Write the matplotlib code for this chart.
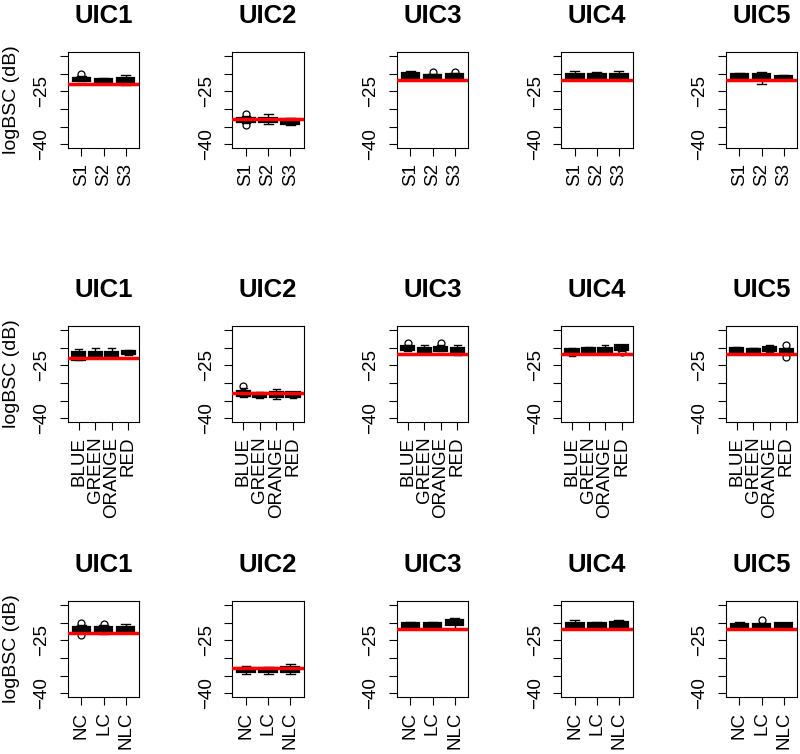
import numpy as np
import matplotlib
matplotlib.use("Agg")
import matplotlib.pyplot as plt

plt.rcParams['font.family'] = ['Liberation Sans', 'DejaVu Sans']

panels = ["UIC1", "UIC2", "UIC3", "UIC4", "UIC5"]
groups_row1 = ["S1", "S2", "S3"]
groups_row2 = ["BLUE", "GREEN", "ORANGE", "RED"]
groups_row3 = ["NC", "LC", "NLC"]

# reference logBSC (red line) per phantom
ref_bsc = [-22.9, -32.7, -21.9, -21.9, -21.9]

# box summaries: (whisker low, q1, median, q3, whisker high)
box_row1 = [
    [(-22.2, -22.0, -21.6, -21.2, -20.8), (-23.0, -22.6, -22.0, -21.5, -21.2), (-23.2, -22.3, -21.7, -21.2, -20.4)],
    [(-33.9, -33.6, -33.0, -32.6, -31.9), (-34.3, -33.8, -33.2, -32.6, -31.5), (-34.4, -34.1, -33.5, -32.7, -32.4)],
    [(-21.5, -21.1, -20.4, -19.8, -19.2), (-21.9, -21.3, -20.8, -20.3, -20.0), (-21.6, -21.1, -20.7, -20.1, -19.9)],
    [(-21.8, -21.4, -20.7, -20.0, -19.2), (-21.5, -21.4, -20.8, -20.0, -19.5), (-21.8, -21.4, -20.8, -20.0, -19.4)],
    [(-21.6, -21.5, -20.8, -20.2, -19.8), (-22.8, -21.5, -20.9, -20.2, -19.6), (-21.8, -21.6, -21.1, -20.7, -20.5)],
]
out_row1 = [
    [[-20.2], [], []],
    [[-31.3, -34.4], [], []],
    [[], [-19.6], [-19.5]],
    [[], [], []],
    [[], [], []],
]

box_row2 = [
    [(-23.6, -23.4, -22.0, -21.3, -20.4), (-22.5, -22.3, -21.7, -21.1, -20.2), (-22.9, -22.8, -22.0, -21.2, -20.2), (-22.2, -21.9, -21.4, -20.9, -20.6)],
    [(-33.9, -33.7, -33.0, -32.3, -31.4), (-34.1, -33.9, -33.3, -32.8, -32.6), (-34.4, -33.9, -33.3, -32.6, -31.6), (-34.2, -34.0, -33.3, -32.6, -32.4)],
    [(-21.0, -20.8, -20.1, -19.5, -19.3), (-21.6, -21.3, -20.8, -20.2, -19.4), (-21.0, -20.9, -20.3, -19.7, -19.3), (-22.1, -21.3, -20.8, -20.0, -19.4)],
    [(-22.5, -21.6, -21.1, -20.5, -20.2), (-21.6, -21.4, -20.8, -20.2, -19.9), (-21.5, -21.3, -20.8, -20.2, -19.4), (-20.9, -20.7, -20.1, -19.4, -19.2)],
    [(-21.5, -21.3, -20.7, -20.1, -19.8), (-21.5, -21.3, -20.8, -20.3, -20.1), (-21.2, -21.0, -20.3, -19.7, -19.4), (-22.1, -21.9, -21.0, -20.3, -20.0)],
]
out_row2 = [
    [[], [], [], []],
    [[-30.9], [], [], []],
    [[-18.6], [], [-18.6], []],
    [[], [], [], [-21.3]],
    [[], [], [], [-19.3, -22.6]],
]

box_row3 = [
    [(-22.8, -22.3, -21.7, -21.1, -20.7), (-23.2, -22.4, -21.8, -21.2, -20.8), (-22.5, -22.3, -21.7, -21.1, -20.4)],
    [(-34.5, -34.0, -33.4, -32.8, -32.3), (-34.4, -34.0, -33.4, -32.8, -32.4), (-34.5, -34.0, -33.3, -32.6, -31.6)],
    [(-21.6, -21.1, -20.6, -20.0, -19.7), (-21.4, -21.2, -20.7, -20.2, -19.7), (-21.9, -20.6, -20.0, -19.3, -18.8)],
    [(-21.4, -21.2, -20.6, -20.0, -19.3), (-21.7, -21.4, -20.9, -20.2, -19.9), (-21.2, -21.2, -20.5, -19.7, -19.2)],
    [(-21.6, -21.4, -20.9, -20.3, -19.7), (-21.8, -21.6, -21.1, -20.5, -20.0), (-21.6, -21.2, -20.7, -20.2, -20.0)],
]
out_row3 = [
    [[-20.2, -23.6], [-20.3], []],
    [[], [], []],
    [[], [], []],
    [[], [], []],
    [[], [-19.3], []],
]

rows = [(groups_row1, box_row1, out_row1),
        (groups_row2, box_row2, out_row2),
        (groups_row3, box_row3, out_row3)]

W, H = 800, 754
fig = plt.figure(figsize=(W / 100, H / 100), dpi=100)

lefts = [67.7, 232.3, 396.7, 561.0, 725.7]
tops = [52, 326, 601]
aw, ah = 71.6, 96

for r, (groups, boxes, outs) in enumerate(rows):
    for c, name in enumerate(panels):
        ax = fig.add_axes([lefts[c] / W, 1 - (tops[r] + ah) / H, aw / W, ah / H])
        n = len(groups)
        stats = []
        for g, (lo, q1, med, q3, hi) in enumerate(boxes[c]):
            stats.append(dict(whislo=lo, q1=q1, med=med, q3=q3, whishi=hi,
                              fliers=outs[c][g], label=groups[g]))
        ax.bxp(stats, positions=np.arange(1, n + 1), widths=0.8, capwidths=0.4,
               patch_artist=True,
               boxprops=dict(facecolor='white', edgecolor='black', linewidth=1.6),
               medianprops=dict(color='black', linewidth=3, solid_capstyle='butt'),
               whiskerprops=dict(color='black', linestyle='--', linewidth=1),
               capprops=dict(color='black', linewidth=1),
               flierprops=dict(marker='o', markerfacecolor='none',
                               markeredgecolor='black', markersize=5,
                               markeredgewidth=0.9))
        ax.axhline(ref_bsc[c], color='red', lw=2.5, zorder=5)
        pad = 0.04 * n
        ax.set_xlim(0.5 - pad, n + 0.5 + pad)
        ax.set_ylim(-41, -13.9)
        ax.set_yticks([-40, -35, -30, -25, -20, -15],
                      ['−40', '', '', '−25', '', ''])
        ax.set_xticks(np.arange(1, n + 1), groups)
        for lab in ax.get_yticklabels():
            lab.set_rotation(90)
            lab.set_va('center')
        for lab in ax.get_xticklabels():
            lab.set_rotation(90)
            lab.set_va('top')
        ax.tick_params(axis='y', labelsize=13.5, length=5.5, width=0.8, pad=7)
        ax.tick_params(axis='x', labelsize=13.5, length=5.5, width=0.8, pad=5)
        for s in ax.spines.values():
            s.set_linewidth(0.8)
        ax.set_title(name, fontsize=18.5, fontweight='bold', pad=21)
        if c == 0:
            fig.text(12 / W, 1 - (tops[r] + ah / 2) / H, 'logBSC (dB)',
                     rotation=90, va='center', ha='center', fontsize=14)

fig.savefig('out.png', dpi=100)
